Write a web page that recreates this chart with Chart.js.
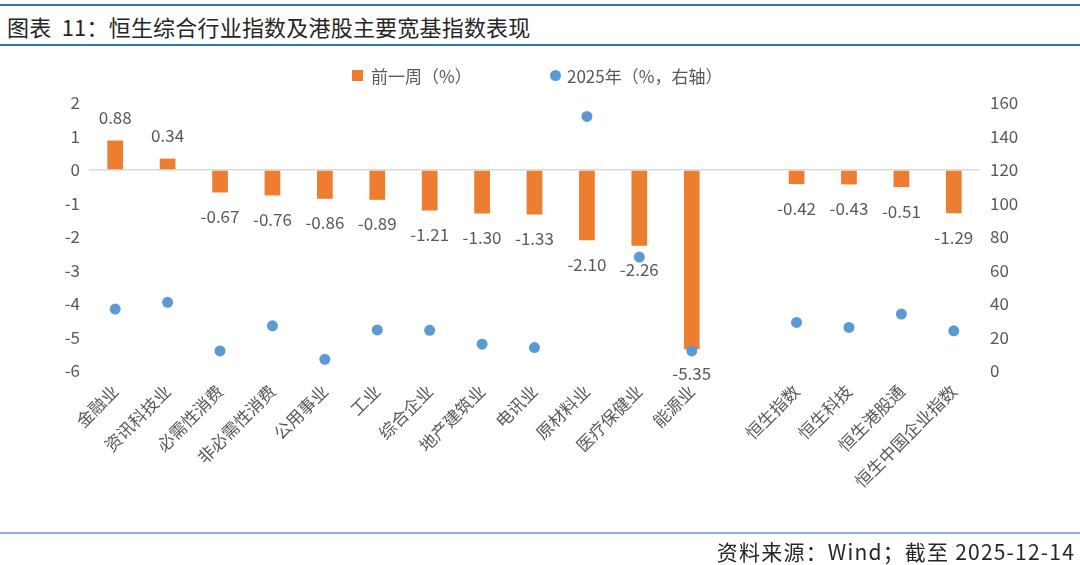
<!DOCTYPE html>
<html>
<head>
<meta charset="utf-8">
<script src="https://cdn.jsdelivr.net/npm/chart.js@4.4.1/dist/chart.umd.min.js"></script>
<style>
  html, body { margin:0; padding:0; background:#fff; }
  body { width:1080px; height:565px; position:relative; overflow:hidden;
         font-family:"Noto Sans CJK SC","Noto Sans",sans-serif; }
  #wrap { position:absolute; left:0; top:0; width:1080px; height:565px; }
  .hline { position:absolute; left:0; width:1080px; height:2px; }
  #title { position:absolute; left:7px; top:10px; font-size:22px; letter-spacing:0.2px; color:#262626; white-space:nowrap; }
  #source { position:absolute; right:5px; top:536px; font-size:21px; letter-spacing:1.2px; color:#262626; white-space:nowrap; }
  #legend { position:absolute; top:64px; left:0; width:1080px; height:24px; font-size:17px; color:#595959; }
  .li { position:absolute; top:0; white-space:nowrap; line-height:24px; }
  .mk { position:absolute; width:11px; height:11px; top:6px; }
</style>
</head>
<body>
<div class="hline" style="top:4px;background:#2f77b8;"></div>
<div id="title">图表&nbsp; 11：恒生综合行业指数及港股主要宽基指数表现</div>
<div class="hline" style="top:44px;background:#2f77b8;"></div>
<div id="wrap"><canvas id="c" width="1080" height="565"></canvas></div>
<div id="legend"></div>
<div class="hline" style="top:532px;background:#8fb1da;"></div>
<div id="source">资料来源：Wind；截至 2025-12-14</div>
<script>
const categories = ["金融业","资讯科技业","必需性消费","非必需性消费","公用事业","工业","综合企业","地产建筑业","电讯业","原材料业","医疗保健业","能源业","","恒生指数","恒生科技","恒生港股通","恒生中国企业指数"];
const weeklyChange = [0.88,0.34,-0.67,-0.76,-0.86,-0.89,-1.21,-1.30,-1.33,-2.10,-2.26,-5.35,null,-0.42,-0.43,-0.51,-1.29];
const ytd2025 = [37,41,12,27,7,24.5,24.3,16,14,152,68,12,null,29,26,34,24];
const leftTicks = [-6,-5,-4,-3,-2,-1,0,1,2];
const rightTicks = [0,20,40,60,80,100,120,140,160];
const seriesNames = ["前一周（%）","2025年（%，右轴）"];
const barColor = "#ed7d31";
const dotColor = "#5b9bd5";
const textColor = "#595959";
const fontFamily = '"Noto Sans CJK SC","Noto Sans",sans-serif';

const labelPlugin = {
  id: 'barLabels',
  afterDatasetsDraw(chart) {
    const ctx = chart.ctx;
    const meta = chart.getDatasetMeta(0);
    ctx.save();
    ctx.font = '17px ' + fontFamily;
    ctx.fillStyle = textColor;
    ctx.textAlign = 'center';
    ctx.textBaseline = 'middle';
    meta.data.forEach((el, i) => {
      const v = weeklyChange[i];
      if (v === null || v === undefined) return;
      const y = v >= 0 ? el.y - 23 : el.y + 24;
      ctx.fillText(v.toFixed(2), el.x, y);
    });
    ctx.restore();
  }
};

const chart = new Chart(document.getElementById('c'), {
  data: {
    labels: categories,
    datasets: [
      { type:'bar', label: seriesNames[0], data: weeklyChange, backgroundColor: barColor,
        yAxisID:'y', order:2, categoryPercentage:1.0, barPercentage:0.3 },
      { type:'line', label: seriesNames[1], data: ytd2025, showLine:false, yAxisID:'y1', order:1,
        pointRadius:5.5, pointHoverRadius:5.5, pointBackgroundColor: dotColor, pointBorderWidth:0,
        borderColor: dotColor, backgroundColor: dotColor }
    ]
  },
  options: {
    responsive:false,
    animation:false,
    layout: { padding: { top:103, left:0, right:0, bottom:0 } },
    plugins: { legend:{ display:false }, tooltip:{ enabled:false } },
    scales: {
      x: {
        offset:true,
        grid:{ display:false }, border:{ display:false },
        ticks:{ color:textColor, font:{ size:17, family:fontFamily }, maxRotation:45, minRotation:45, autoSkip:false, padding:2 },
        afterFit(s){ s.height = 565 - 371 - 0; }
      },
      y: {
        position:'left', min:-6, max:2,
        afterBuildTicks(s){ s.ticks = leftTicks.map(v=>({value:v})); },
        grid:{ drawTicks:false, lineWidth:1.5, color:(c)=> c.tick && c.tick.value===0 ? '#d9d9d9' : 'rgba(0,0,0,0)' },
        border:{ display:false },
        ticks:{ color:textColor, font:{ size:17, family:fontFamily }, padding:9 },
        afterFit(s){ s.width = 89; }
      },
      y1: {
        position:'right', min:0, max:160,
        afterBuildTicks(s){ s.ticks = rightTicks.map(v=>({value:v})); },
        grid:{ display:false, drawTicks:false }, border:{ display:false },
        ticks:{ color:textColor, font:{ size:17, family:fontFamily }, padding:10 },
        afterFit(s){ s.width = 100; }
      }
    }
  },
  plugins:[labelPlugin]
});

// HTML legend built from the datasets
const legend = document.getElementById('legend');
const legendPos = [{mk:352, tx:371, round:false},{mk:550, tx:567, round:true}];
chart.data.datasets.forEach((ds, i) => {
  const mk = document.createElement('div');
  mk.className = 'mk';
  mk.style.left = legendPos[i].mk + 'px';
  mk.style.background = ds.type === 'bar' ? ds.backgroundColor : ds.pointBackgroundColor;
  if (legendPos[i].round) mk.style.borderRadius = '50%';
  legend.appendChild(mk);
  const tx = document.createElement('div');
  tx.className = 'li';
  tx.style.left = legendPos[i].tx + 'px';
  tx.textContent = ds.label;
  legend.appendChild(tx);
});
</script>
</body>
</html>
